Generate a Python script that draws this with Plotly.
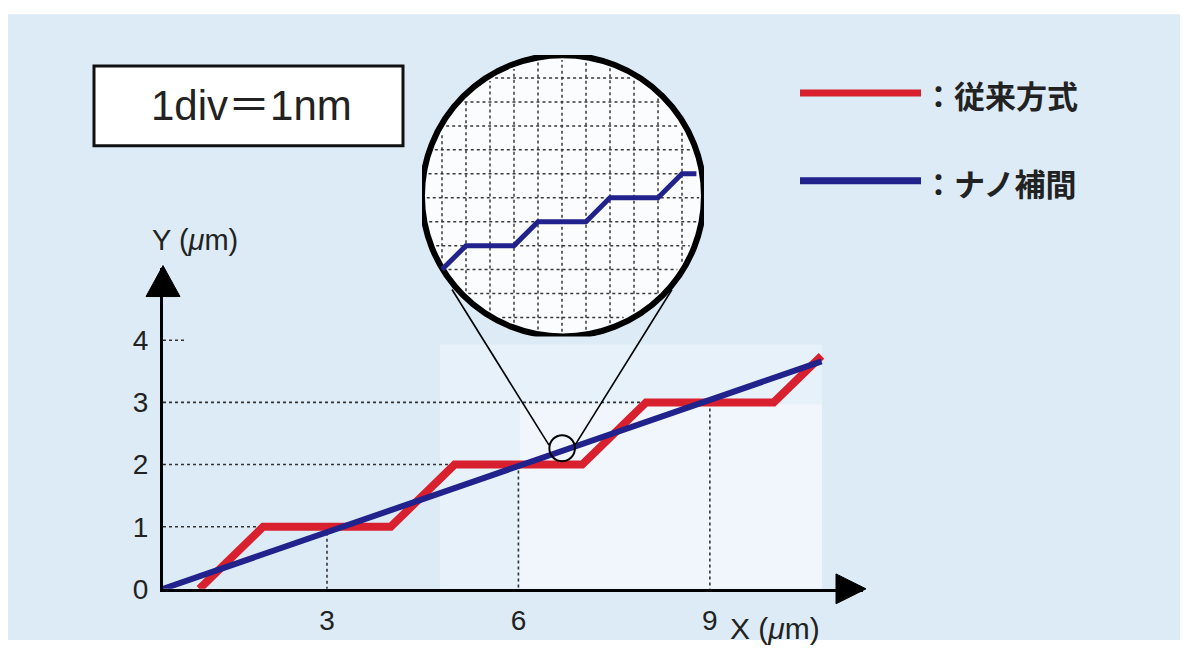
import numpy as np
import plotly.graph_objects as go

# page has an 8px body margin; the photo is slightly squashed vertically
OFF = 8
S = 0.9775
FW, FH = 1188 - 2 * OFF, 648

# ---- data ----
# conventional method (staircase), X/Y in µm
red_x = [1, 2, 4, 5, 7, 8, 10, 10.75]
red_y = [0, 1, 1, 2, 2, 3, 3, 3.75]
# nano interpolation (straight line)
blue_x = [0.43, 10.75]
blue_y = [0, 3.66]
# dotted reference lines
ref_x = [3, 6, 9]
ref_y = [1, 2, 3]
x_ticks = [3, 6, 9]
y_ticks = [0, 1, 2, 3, 4]
# zoomed inset (units: div = 1 nm)
inset_x = [0, 1, 3, 4, 6, 7, 9, 10, 10.6]
inset_y = [0, 1, 1, 2, 2, 3, 3, 4, 4]
inset_grid_x = list(range(0, 11))
inset_grid_y = list(range(-2, 9))

RED = "#d8202e"
BLUE = "#22228c"
BG = "#dcebf6"
TXT = "#222222"


def px(x):
    return (x - OFF) / FW


def py(y):
    return 1 - (y / S - OFF) / FH


fig = go.Figure()

# dotted reference lines on main axes
X0 = 0.43
dx, dy = [], []
for xv, yv in zip(ref_x, ref_y):
    dx += [X0, xv, None, xv, xv, None]
    dy += [yv, yv, None, yv, 0, None]
dx += [X0, 0.8, None]
dy += [4, 4, None]
fig.add_trace(go.Scatter(x=dx, y=dy, mode="lines", xaxis="x", yaxis="y",
                         line=dict(color="#333333", width=1.6, dash="dot"),
                         hoverinfo="skip", showlegend=False))

fig.add_trace(go.Scatter(x=red_x, y=red_y, mode="lines", name="従来方式",
                         line=dict(color=RED, width=8), showlegend=False))
fig.add_trace(go.Scatter(x=blue_x, y=blue_y, mode="lines", name="ナノ補間",
                         line=dict(color=BLUE, width=6), showlegend=False))

# inset grid clipped to circle
cx, cy, r = 5.04, 3.08, 5.875
rin = r - 0.2
gx, gy = [], []
for k in inset_grid_x:
    d = rin**2 - (k - cx) ** 2
    if d > 0:
        h = np.sqrt(d)
        gx += [k, k, None]
        gy += [cy - h, cy + h, None]
for k in inset_grid_y:
    d = rin**2 - (k - cy) ** 2
    if d > 0:
        h = np.sqrt(d)
        gx += [cx - h, cx + h, None]
        gy += [k, k, None]
fig.add_trace(go.Scatter(x=gx, y=gy, mode="lines", xaxis="x2", yaxis="y2",
                         line=dict(color="#3a3a3a", width=1.5, dash="dot"),
                         hoverinfo="skip", showlegend=False))
fig.add_trace(go.Scatter(x=inset_x, y=inset_y, mode="lines", xaxis="x2", yaxis="y2",
                         line=dict(color=BLUE, width=5), showlegend=False))

shapes = []
# background
shapes.append(dict(type="rect", xref="paper", yref="paper", x0=px(6), x1=1,
                   y0=0, y1=py(14), fillcolor=BG, line=dict(width=0), layer="below"))
# light region under lines
shapes.append(dict(type="rect", xref="paper", yref="paper", x0=px(440), x1=px(822),
                   y0=py(590), y1=py(345), fillcolor="rgba(255,255,255,0.3)",
                   line=dict(width=0), layer="below"))
shapes.append(dict(type="rect", xref="paper", yref="paper", x0=px(520), x1=px(822),
                   y0=py(590), y1=py(405), fillcolor="rgba(255,255,255,0.4)",
                   line=dict(width=0), layer="below"))
# magnifier circle
shapes.append(dict(type="circle", xref="x2", yref="y2", x0=cx - r, x1=cx + r,
                   y0=cy - r, y1=cy + r, fillcolor="#fbfcfd",
                   line=dict(color="black", width=6), layer="below"))
# small circle on main chart
scx, scy = 6.685, 2.263
shapes.append(dict(type="circle", xref="x", yref="y", x0=scx - 0.2, x1=scx + 0.2,
                   y0=scy - 0.21, y1=scy + 0.21, line=dict(color="black", width=2)))
# tangent lines
shapes.append(dict(type="line", xref="paper", yref="paper", x0=px(549), y0=py(446),
                   x1=px(452), y1=py(290), line=dict(color="black", width=1.6)))
shapes.append(dict(type="line", xref="paper", yref="paper", x0=px(575), y0=py(446),
                   x1=px(672), y1=py(290), line=dict(color="black", width=1.6)))
# arrowheads
shapes.append(dict(type="path", xref="paper", yref="paper",
                   path=f"M {px(866)} {py(590)} L {px(836)} {py(575)} L {px(836)} {py(605)} Z",
                   fillcolor="black", line=dict(color="black", width=1)))
shapes.append(dict(type="path", xref="paper", yref="paper",
                   path=f"M {px(163)} {py(266)} L {px(146)} {py(297)} L {px(180)} {py(297)} Z",
                   fillcolor="black", line=dict(color="black", width=1)))
# 1div box
shapes.append(dict(type="rect", xref="paper", yref="paper", x0=px(94), x1=px(403),
                   y0=py(146), y1=py(66), fillcolor="white",
                   line=dict(color="#111111", width=3)))
# legend lines
shapes.append(dict(type="line", xref="paper", yref="paper", x0=px(800), x1=px(921),
                   y0=py(93), y1=py(93), line=dict(color=RED, width=7)))
shapes.append(dict(type="line", xref="paper", yref="paper", x0=px(800), x1=px(921),
                   y0=py(181), y1=py(181), line=dict(color=BLUE, width=7)))


def label(x, y, text, size, family, xanchor="center"):
    return dict(xref="paper", yref="paper", x=px(x), y=py(y), text=text,
                showarrow=False, xanchor=xanchor, yanchor="middle",
                font=dict(size=size, color=TXT, family=family))


ann = [
    label(251, 106, "1div＝1nm", 42, "Liberation Sans, Noto Sans CJK JP"),
    label(921, 95, "<b>：従来方式</b>", 31, "Noto Sans CJK JP", xanchor="left"),
    label(921, 183, "<b>：ナノ補間</b>", 31, "Noto Sans CJK JP", xanchor="left"),
    label(195, 240, "Y (<i>μ</i>m)", 29, "Liberation Sans"),
    label(775, 630, "X (<i>μ</i>m)", 30, "Liberation Sans"),
]

fig.update_layout(
    width=FW, height=FH,
    margin=dict(l=0, r=0, t=0, b=0),
    paper_bgcolor="white",
    plot_bgcolor="rgba(0,0,0,0)",
    showlegend=False,
    shapes=shapes,
    annotations=ann,
    xaxis=dict(domain=[px(163), px(863)], range=[X0, 11.4], anchor="y",
               showgrid=False, zeroline=False, showline=True, linewidth=3,
               linecolor="black", tickvals=x_ticks, ticks="",
               tickfont=dict(size=28, color=TXT, family="Liberation Sans"),
               ticklabelstandoff=5),
    yaxis=dict(domain=[py(590), py(268)], range=[0, (590 - 268) / 62.3], anchor="x",
               showgrid=False, zeroline=False, showline=True, linewidth=3,
               linecolor="black", tickvals=y_ticks, ticks="",
               tickfont=dict(size=28, color=TXT, family="Liberation Sans"),
               ticklabelstandoff=6),
    xaxis2=dict(domain=[px(422), px(704)], range=[-20 / 24, 262 / 24], anchor="y2",
                visible=False),
    yaxis2=dict(domain=[py(337), py(55)], range=[-67 / 24, 215 / 24], anchor="x2",
                visible=False),
)

fig.write_html("out.html")
